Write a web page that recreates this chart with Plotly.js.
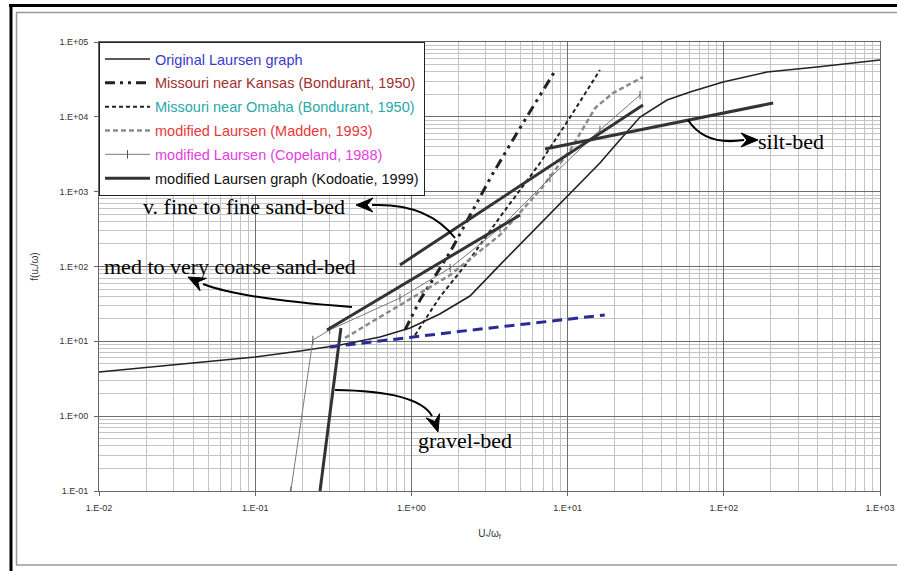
<!DOCTYPE html>
<html>
<head>
<meta charset="utf-8">
<script src="https://cdn.plot.ly/plotly-3.0.1.min.js"></script>
<style>html,body{margin:0;padding:0;background:#fff;}#chart{width:897px;height:571px;}</style>
</head>
<body>
<div id="chart"></div>
<script>
// ---- data ----
const xTickVals = [0.01, 0.1, 1, 10, 100, 1000];
const xTickText = ['1.E-02', '1.E-01', '1.E+00', '1.E+01', '1.E+02', '1.E+03'];
const yTickVals = [0.1, 1, 10, 100, 1000, 10000, 100000];
const yTickText = ['1.E-01', '1.E+00', '1.E+01', '1.E+02', '1.E+03', '1.E+04', '1.E+05'];

const laursenX = [0.01, 0.033, 0.1, 0.194, 0.349, 0.63, 0.98, 1.52, 2.37, 3.69, 6.66, 12.0, 16.1, 21.6, 29.1, 43.3, 60.8, 98.9, 189, 395, 1000];
const laursenY = [3.89, 4.98, 6.17, 7.43, 8.93, 11.4, 15.1, 23.2, 40.3, 105, 370, 1306, 2415, 4900, 9950, 16800, 21500, 29200, 39700, 46300, 57500];

const kansasX = [0.91, 1.135, 1.77, 2.48, 3.28, 4.96, 8.3];
const kansasY = [14.2, 35.6, 156, 569, 1670, 7100, 41000];

const omahaX = [1.055, 1.52, 2.27, 3.69, 6.66, 10.4, 16.1];
const omahaY = [12.1, 39.1, 111, 458, 2415, 9950, 42200];

const maddenX = [0.376, 0.845, 1.77, 3.69, 6.66, 10.4, 15.0, 19.5, 30.4];
const maddenY = [11.1, 30.6, 76.9, 264, 1052, 3600, 13100, 20800, 34000];

const copelandX = [0.169, 0.234, 0.30, 0.845, 1.77, 3.69, 7.71, 16.1, 29.1];
const copelandY = [0.1, 10.4, 14.2, 37.9, 95.5, 327, 1523, 6670, 19600];

// Kodoatie: gravel-bed, med-coarse sand-bed, v. fine-fine sand-bed, silt-bed (null = gap)
const kodoatieX = [0.26, 0.354, null, 0.288, 4.96, null, 0.845, 30.4, null, 7.17, 207];
const kodoatieY = [0.1, 15.1, null, 14.2, 488, null, 105, 14400, null, 3720, 15300];

const extX = [0.30, 2.0, 17.3];
const extY = [8.4, 13.5, 22.5];

const seriesNames = [
  ['Original Laursen graph', '#3a3ac8'],
  ['Missouri near Kansas (Bondurant, 1950)', '#a03030'],
  ['Missouri near Omaha (Bondurant, 1950)', '#2aa8a8'],
  ['modified Laursen (Madden, 1993)', '#e83838'],
  ['modified Laursen (Copeland, 1988)', '#e040e0'],
  ['modified Laursen graph (Kodoatie, 1999)', '#111111']
];
const bedLabels = ['silt-bed', 'v. fine to fine sand-bed', 'med to very coarse sand-bed', 'gravel-bed'];

function nm(i){ return '<span style="color:' + seriesNames[i][1] + '">' + seriesNames[i][0] + '</span>'; }

const traces = [
  {x: laursenX, y: laursenY, mode: 'lines', name: nm(0), legendgroup: 'a',
   line: {color: '#222', width: 1.6}},
  {x: kansasX, y: kansasY, mode: 'lines', name: nm(1), legendgroup: 'b',
   line: {color: '#222', width: 3, dash: '10px,5px,3px,5px,3px,5px'}},
  {x: omahaX, y: omahaY, mode: 'lines', name: nm(2), legendgroup: 'c',
   line: {color: '#222', width: 2, dash: '4px,3px'}},
  {x: maddenX, y: maddenY, mode: 'lines', name: nm(3), legendgroup: 'd',
   line: {color: '#8a8a8a', width: 2.5, dash: '5px,3px'}},
  {x: copelandX, y: copelandY, mode: 'lines+markers', name: nm(4), legendgroup: 'e',
   line: {color: '#7a7a7a', width: 1}, marker: {symbol: 'line-ns-open', size: 6, color: '#555', line: {width: 1, color: '#555'}}},
  {x: kodoatieX, y: kodoatieY, mode: 'lines', name: nm(5), legendgroup: 'f', connectgaps: false,
   line: {color: '#333', width: 3}},
  {x: extX, y: extY, mode: 'lines', showlegend: false,
   line: {color: '#2a2a9a', width: 3, dash: '10px,6px'}}
];

// ---- decoration helpers (pixel -> paper) ----
const L = 99, T = 42, W = 781, H = 449;
function P(x, y){ return ((x - L) / W).toFixed(5) + ',' + (1 - (y - T) / H).toFixed(5); }
function curve(x0, y0, cx, cy, x1, y1){
  return {type: 'path', xref: 'paper', yref: 'paper', path: 'M ' + P(x0, y0) + ' Q ' + P(cx, cy) + ' ' + P(x1, y1),
          line: {color: '#000', width: 2}};
}
function head(tx, ty, fx, fy){
  const dx = tx - fx, dy = ty - fy, d = Math.hypot(dx, dy), ux = dx / d, uy = dy / d;
  const len = 17, hw = 7, notch = 11;
  const bx = tx - ux * len, by = ty - uy * len;
  const nx = tx - ux * notch, ny = ty - uy * notch;
  const p1 = [bx - uy * hw, by + ux * hw], p2 = [bx + uy * hw, by - ux * hw];
  return {type: 'path', xref: 'paper', yref: 'paper',
          path: 'M ' + P(tx, ty) + ' L ' + P(p1[0], p1[1]) + ' L ' + P(nx, ny) + ' L ' + P(p2[0], p2[1]) + ' Z',
          fillcolor: '#000', line: {color: '#000', width: 1}};
}
function line(x0, y0, x1, y1, c, w){
  const a = P(x0, y0).split(','), b = P(x1, y1).split(',');
  return {type: 'line', xref: 'paper', yref: 'paper', x0: +a[0], y0: +a[1], x1: +b[0], y1: +b[1], line: {color: c, width: w}};
}

const shapes = [
  curve(688, 120, 705, 146, 744, 140), head(758, 140, 742, 140),
  curve(455, 238, 428, 203, 372, 205), head(356, 205, 372, 205),
  curve(352, 307, 242, 299, 203, 284), head(188, 277, 204, 285),
  curve(335, 390, 418, 391, 432, 416), head(438, 432, 433, 416),
  // outer frames
  line(11, 4, 11, 575, '#000', 3), line(9, 5.5, 900, 5.5, '#000', 3),
  line(16, 12.5, 900, 12.5, '#999', 1.5), line(16.5, 12, 16.5, 565, '#999', 1.5), line(16, 565, 900, 565, '#999', 1.5)
];

function ann(text, x, y){
  const a = P(x, y).split(',');
  return {text: text, x: +a[0], y: +a[1], xref: 'paper', yref: 'paper', xanchor: 'left', yanchor: 'middle',
          showarrow: false, font: {family: 'Liberation Serif, Times New Roman, serif', size: 22, color: '#000'}};
}
const annotations = [
  ann(bedLabels[0], 756, 141), ann(bedLabels[1], 141, 207), ann(bedLabels[2], 102, 266), ann(bedLabels[3], 416, 441)
];

function minorVals(lo, hi){
  const v = [];
  for (let e = lo; e < hi; e++) for (let m = 2; m <= 9; m++) v.push(m * Math.pow(10, e));
  return v;
}

const layout = {
  width: 897, height: 571,
  margin: {l: L, r: 897 - L - W, t: T, b: 571 - T - H},
  paper_bgcolor: '#fff', plot_bgcolor: '#fff',
  font: {family: 'Liberation Sans, Arial, sans-serif', size: 9, color: '#333'},
  showlegend: true,
  legend: {x: 0, y: 1, xanchor: 'left', yanchor: 'top', bgcolor: '#fff', bordercolor: '#222', borderwidth: 1,
           font: {family: 'Liberation Sans, Arial, sans-serif', size: 14.5}, itemwidth: 45, tracegroupgap: 2,
           traceorder: 'grouped'},
  xaxis: {type: 'log', range: [-2, 3], tickmode: 'array', tickvals: xTickVals, ticktext: xTickText,
          showgrid: true, gridcolor: '#6e6e6e', gridwidth: 1, showline: true, linecolor: '#666', linewidth: 1, mirror: true,
          ticks: 'outside', ticklen: 4, tickcolor: '#666', ticklabelstandoff: 4, zeroline: false,
          minor: {tickmode: 'array', tickvals: minorVals(-2, 3), showgrid: true, gridcolor: '#c4c4c4', gridwidth: 1, ticks: ''},
          title: {text: 'U<sub>*</sub>/ω<sub>f</sub>', font: {size: 10, color: '#333'}, standoff: 18}},
  yaxis: {type: 'log', range: [-1, 5], tickmode: 'array', tickvals: yTickVals, ticktext: yTickText,
          showgrid: true, gridcolor: '#6e6e6e', gridwidth: 1, showline: true, linecolor: '#666', linewidth: 1, mirror: true,
          ticks: 'outside', ticklen: 4, tickcolor: '#666', ticklabelstandoff: 4, zeroline: false,
          minor: {tickmode: 'array', tickvals: minorVals(-1, 5), showgrid: true, gridcolor: '#c4c4c4', gridwidth: 1, ticks: ''},
          title: {text: 'f(u<sub>*</sub>/ω)', font: {size: 10, color: '#333'}, standoff: 18}},
  shapes: shapes,
  annotations: annotations
};

Plotly.newPlot('chart', traces, layout, {staticPlot: true, displayModeBar: false});
</script>
</body>
</html>
